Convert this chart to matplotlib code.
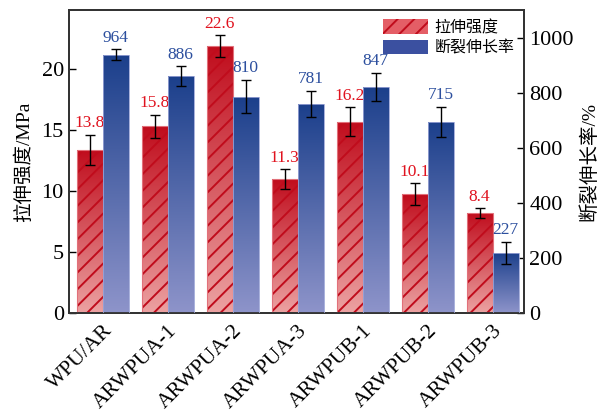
import matplotlib.pyplot as plt
import numpy as np
from matplotlib.colors import LinearSegmentedColormap
from matplotlib.patches import Patch

plt.rcParams["font.family"] = ["Liberation Serif", "Noto Sans CJK SC"]
plt.rcParams["hatch.linewidth"] = 1.4
plt.rcParams["axes.unicode_minus"] = False

muestras = ["WPU/AR", "ARWPUA-1", "ARWPUA-2", "ARWPUA-3", "ARWPUB-1", "ARWPUB-2", "ARWPUB-3"]
resistencia = [13.4, 15.3, 21.9, 11.0, 15.7, 9.75, 8.2]
err_resistencia = [1.23, 0.97, 0.89, 0.79, 1.17, 0.9, 0.4]
etiq_resistencia = ["13.8", "15.8", "22.6", "11.3", "16.2", "10.1", "8.4"]
elongacion = [940, 863, 788, 761, 824, 696, 219]
err_elongacion = [20, 36, 61, 48, 51, 56, 41]
etiq_elongacion = ["964", "886", "810", "781", "847", "715", "227"]

ROJO_ARRIBA = "#c00c1c"
ROJO_ABAJO = "#eca2a2"
AZUL_ARRIBA = "#1b3f8b"
AZUL_ABAJO = "#8e94ca"
ROJO_TEXTO = "#e0121e"
AZUL_TEXTO = "#2c4f9e"


def barras_degradado(ax, xs, alturas, ancho, c_arriba, c_abajo, hatch=None):
    cmap = LinearSegmentedColormap.from_list("g", [c_abajo, c_arriba])
    grad = np.linspace(0, 1, 256).reshape(-1, 1)
    barras = ax.bar(xs, alturas, ancho, color="none", edgecolor="none", zorder=2)
    for b in barras:
        x0, h = b.get_x(), b.get_height()
        im = ax.imshow(grad, cmap=cmap, origin="lower", aspect="auto",
                       extent=(x0, x0 + ancho, 0, h), zorder=2)
        im.set_clip_path(b)
    if hatch:
        ax.bar(xs, alturas, ancho, color="none", edgecolor=c_arriba, hatch=hatch,
               linewidth=0, zorder=3)
        ax.bar(xs, alturas, ancho, color="none", edgecolor="#e2707a", linewidth=0.8, zorder=3)
    else:
        ax.bar(xs, alturas, ancho, color="none", edgecolor="#9aa4d6", linewidth=0.6, zorder=3)


fig = plt.figure(figsize=(5.98, 4.12), dpi=100)
ax1 = fig.add_axes([0.116, 0.240, 0.760, 0.736])
ax2 = ax1.twinx()

x = np.arange(len(muestras))
ancho = 0.4

barras_degradado(ax1, x - ancho / 2, resistencia, ancho, ROJO_ARRIBA, ROJO_ABAJO, hatch="//")
ax1.errorbar(x - ancho / 2, resistencia, yerr=err_resistencia, fmt="none", ecolor="black",
             elinewidth=1, capsize=3.5, capthick=1, zorder=4)
barras_degradado(ax2, x + ancho / 2, elongacion, ancho, AZUL_ARRIBA, AZUL_ABAJO)
ax2.errorbar(x + ancho / 2, elongacion, yerr=err_elongacion, fmt="none", ecolor="black",
             elinewidth=1, capsize=3.5, capthick=1, zorder=4)

for xi, h, e, t in zip(x - ancho / 2, resistencia, err_resistencia, etiq_resistencia):
    ax1.annotate(t, (xi, h + e), xytext=(0, 2.5), textcoords="offset points",
                 ha="center", va="bottom", color=ROJO_TEXTO, fontsize=12.5)
for xi, h, e, t in zip(x + ancho / 2, elongacion, err_elongacion, etiq_elongacion):
    ax2.annotate(t, (xi, h + e), xytext=(0, 2.5), textcoords="offset points",
                 ha="center", va="bottom", color=AZUL_TEXTO, fontsize=12.5)

ax1.set_xlim(-0.515, 6.48)
ax1.set_ylim(0, 24.85)
ax2.set_ylim(0, 1104)
ax1.set_yticks([0, 5, 10, 15, 20])
ax2.set_yticks([0, 200, 400, 600, 800, 1000])
ax1.set_xticks(x)
ax1.set_xticklabels(muestras, rotation=45, ha="right", rotation_mode="anchor", fontsize=15.5)

ax1.tick_params(axis="y", direction="in", length=5, width=1, labelsize=16, pad=4)
ax2.tick_params(axis="y", direction="in", length=5, width=1, labelsize=16, pad=4)
ax1.tick_params(axis="x", length=0, pad=6)

for ax in (ax1, ax2):
    for s in ax.spines.values():
        s.set_linewidth(1.3)
        s.set_color("#333333")

ax1.set_ylabel("拉伸强度/MPa", fontsize=14, labelpad=6)
ax2.set_ylabel("断裂伸长率/%", fontsize=14, labelpad=4)

handles = [
    Patch(facecolor="#e45e66", edgecolor=ROJO_ARRIBA, hatch="//", linewidth=0, label="拉伸强度"),
    Patch(facecolor="#3b50a0", edgecolor="none", label="断裂伸长率"),
]
ax2.legend(handles=handles, loc="upper right", bbox_to_anchor=(1.0, 1.0), frameon=False,
           fontsize=11.5, handlelength=2.8, handleheight=1.0, handletextpad=0.4,
           labelspacing=0.25, borderaxespad=0.2)

fig.savefig("out.png", dpi=100)
